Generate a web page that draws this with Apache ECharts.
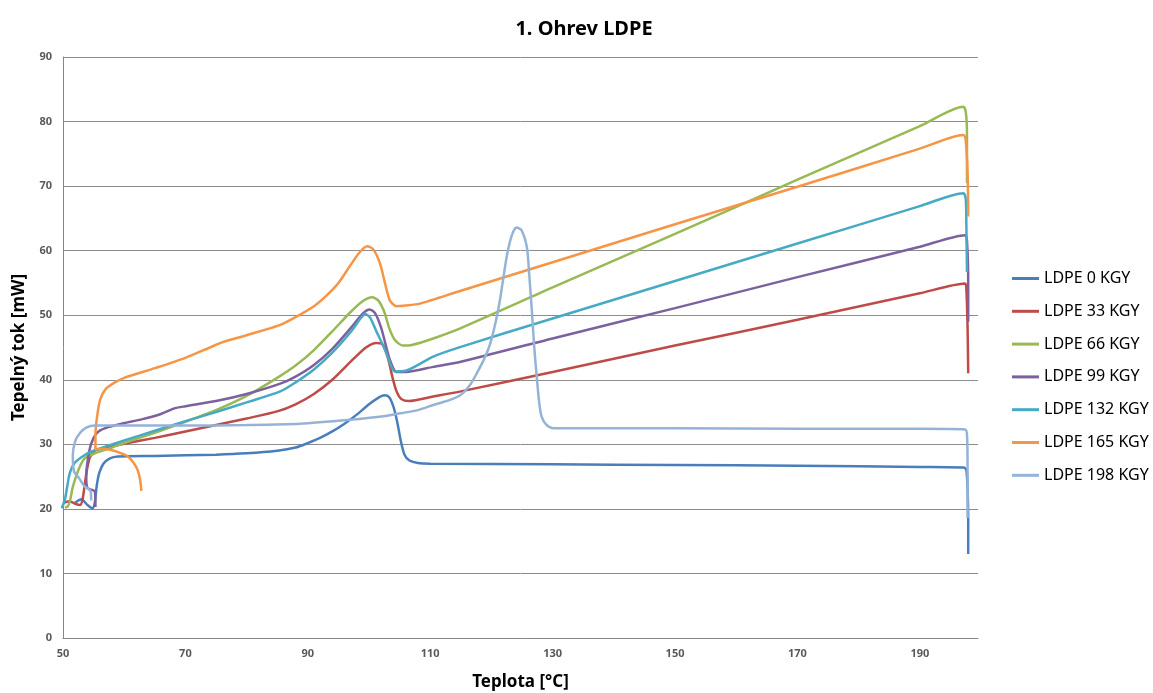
<!DOCTYPE html>
<html>
<head>
<meta charset="utf-8">
<script src="https://cdn.jsdelivr.net/npm/echarts@6/dist/echarts.min.js"></script>
<style>
html,body{margin:0;padding:0;background:#fff;}
#c{width:1153px;height:693px;}
</style>
</head>
<body>
<div id="c"></div>
<script>
// ---- data: [teplota °C, tepelný tok mW] ----
const seriesNames = ["LDPE 0 KGY","LDPE 33 KGY","LDPE 66 KGY","LDPE 99 KGY","LDPE 132 KGY","LDPE 165 KGY","LDPE 198 KGY"];

const ldpe0 = [[52.0,21.0],[53.0,21.5],[54.0,20.6],[54.8,20.1],[55.2,21.0],[55.5,23.5],[55.9,25.5],[56.6,27.0],[57.6,27.8],[59,28.1],[65,28.2],[75,28.4],[80,28.6],[85,29.0],[88,29.5],[90,30.2],[92,31.0],[94,32.0],[96,33.2],[98,34.6],[100,36.2],[101.5,37.2],[102.5,37.6],[103.3,37.3],[104,35.8],[104.6,33.5],[105.2,30.5],[105.8,28.4],[106.6,27.5],[108,27.1],[110,27.0],[130,26.9],[150,26.8],[170,26.7],[190,26.5],[197.2,26.4],[197.6,26.0],[197.8,23],[197.9,18],[197.9,13.0]];

const ldpe33 = [[50.0,20.9],[51.0,21.2],[52.0,20.8],[52.8,20.6],[53.2,21.5],[53.5,23.4],[53.9,26.0],[54.4,28.0],[55.2,29.0],[56.5,29.4],[60,30.1],[65,31.0],[70,32.0],[75,33.0],[80,34.0],[85,35.1],[88,36.2],[91,37.8],[94,40.0],[97,42.8],[99.5,45.0],[101.2,45.7],[102.3,45.4],[103.2,43.0],[103.8,40.5],[104.5,38.2],[105.3,37.0],[106.5,36.7],[110.5,37.4],[115,38.2],[130,41.2],[150,45.3],[170,49.3],[190,53.4],[197.4,54.9],[197.6,54.0],[197.8,48],[197.9,41.0]];

const ldpe66 = [[50.3,20.2],[50.8,20.4],[51.2,21.5],[51.6,23.4],[52.5,26.0],[53.5,27.8],[55.2,28.6],[58,29.5],[60,30.2],[65,31.8],[70,33.5],[75,35.3],[80,37.5],[85,40.3],[88,42.2],[91,44.6],[94,47.5],[97,50.5],[99,52.2],[100.5,52.8],[101.5,52.3],[102.5,50.5],[103.3,48.0],[104.2,46.2],[105.5,45.3],[107,45.4],[110.5,46.4],[115,48.0],[130,54.3],[150,62.6],[170,71.0],[190,79.3],[197.1,82.3],[197.5,81.5],[197.7,78],[197.7,70.5]];

const ldpe99 = [[55.3,20.3],[55.2,22.7],[54.0,23.2],[53.8,25.0],[54.3,29.0],[55.0,31.0],[55.8,32.0],[57.5,32.7],[59.6,33.2],[63,33.9],[66,34.7],[68.3,35.6],[70,35.9],[75,36.7],[80,37.8],[85.5,39.4],[88,40.5],[91,42.3],[94,44.8],[97,48.0],[99,50.3],[100.1,50.9],[101,50.3],[102,48.0],[103.4,43.1],[104.5,41.2],[106,41.2],[110.5,42.0],[115,42.8],[130,46.4],[150,51.1],[170,55.9],[190,60.6],[197.4,62.4],[197.7,61.5],[197.9,55],[197.9,49.0]];

const ldpe132 = [[49.8,20.1],[50.3,21.4],[50.7,23.5],[51.1,25.5],[51.9,27.1],[53.5,28.3],[55,29.0],[60,30.6],[65,32.1],[70,33.6],[75,35.0],[80,36.5],[85.5,38.2],[88,39.6],[91,41.6],[94,44.2],[97,47.4],[98.7,49.6],[99.4,50.2],[100.2,49.6],[101.2,47.5],[102.2,45.5],[102.9,44.0],[104.2,41.3],[106,41.4],[110.5,43.6],[115,45.1],[130,49.5],[150,55.3],[170,61.1],[190,66.9],[197.1,68.9],[197.5,68.0],[197.6,64],[197.7,56.7]];

const ldpe165 = [[62.8,22.8],[62.6,24.5],[62.2,26.0],[61.5,27.2],[60.5,28.2],[59,28.8],[57.5,29.2],[56,29.3],[55.3,29.2],[55.3,31.5],[55.6,34.5],[56.1,37.0],[57,38.6],[58.5,39.6],[60,40.3],[65,41.8],[70,43.4],[74,45.0],[76,45.8],[80,46.9],[85.5,48.5],[88,49.7],[91,51.4],[93,53.0],[95,55.0],[97,57.8],[98.5,59.8],[99.7,60.7],[100.7,60.2],[101.8,58.0],[102.6,55.0],[103.4,52.3],[104.5,51.4],[106,51.5],[108.3,51.8],[115,53.8],[130,58.2],[150,64.1],[170,69.9],[190,75.8],[197.1,77.9],[197.5,77.0],[197.8,72],[197.9,65.3]];

const ldpe198 = [[54.6,21.3],[54.5,22.8],[53.5,23.5],[52.6,24.8],[51.8,25.8],[51.6,28.3],[52.0,30.5],[52.8,31.8],[53.8,32.6],[55.2,32.9],[60,32.9],[70,32.9],[80,33.0],[88.7,33.2],[96.9,33.8],[102,34.3],[105.1,34.8],[108,35.3],[110.5,36.1],[113,36.8],[114.9,37.6],[116.5,39.2],[117.6,41.0],[118.8,43.2],[119.8,45.6],[120.7,49.0],[121.4,52.4],[122.5,59.1],[123.3,62.3],[124.1,63.6],[124.9,63.2],[125.8,60.5],[126.2,56],[126.6,50.8],[127.0,45.0],[127.4,40.5],[127.8,36.5],[128.2,34.3],[129,33.0],[130.1,32.5],[150,32.5],[170,32.4],[190,32.4],[197.4,32.3],[197.7,31.5],[197.8,26],[197.8,18.6]];

const allData = [ldpe0, ldpe33, ldpe66, ldpe99, ldpe132, ldpe165, ldpe198];
const colors = ["#4A7EBB","#BE4B48","#98B954","#7D60A0","#46AAC5","#F69545","#95B3D7"];

const chart = echarts.init(document.getElementById('c'), null, {renderer:'canvas'});
const FONT = '"Noto Sans", "Open Sans", sans-serif';

chart.setOption({
  animation:false,
  backgroundColor:'#ffffff',
  title:{
    text:'1. Ohrev LDPE',
    left:579, top:14, textAlign:'center',
    textStyle:{fontFamily:FONT, fontSize:20, fontWeight:'bold', color:'#000'}
  },
  grid:{left:63, right:175, top:57, bottom:55, containLabel:false, outerBoundsMode:'none'},
  legend:{
    orient:'vertical',
    left:1012, top:269, padding:0,
    icon:'rect', itemWidth:27, itemHeight:3, itemGap:13.8,
    textStyle:{fontFamily:FONT, fontSize:16, color:'#000', lineHeight:19},
    data:seriesNames
  },
  xAxis:{
    type:'value', min:50, max:199.5, interval:20,
    name:'Teplota [°C]', nameLocation:'middle', nameGap:36,
    nameTextStyle:{fontFamily:FONT, fontSize:17, fontWeight:'bold', color:'#000'},
    axisLine:{show:true, lineStyle:{color:'#868686', width:1}},
    axisTick:{show:false},
    axisLabel:{fontFamily:FONT, fontSize:11, fontWeight:'bold', color:'#595959', margin:10, showMaxLabel:false},
    splitLine:{show:false}
  },
  yAxis:{
    type:'value', min:0, max:90, interval:10,
    name:'Tepelný tok [mW]', nameLocation:'middle', nameGap:35, nameRotate:90,
    nameTextStyle:{fontFamily:FONT, fontSize:17, fontWeight:'bold', color:'#000'},
    axisLine:{show:true, lineStyle:{color:'#868686', width:1}},
    axisTick:{show:false},
    axisLabel:{fontFamily:FONT, fontSize:11, fontWeight:'bold', color:'#595959', margin:11},
    splitLine:{show:true, lineStyle:{color:'#8c8c8c', width:1}}
  },
  series: seriesNames.map((n,i)=>({
    name:n, type:'line', data:allData[i], showSymbol:false, symbol:'none',
    smooth:0.25,
    lineStyle:{color:colors[i], width:2.5},
    itemStyle:{color:colors[i]}
  }))
});
</script>
</body>
</html>
